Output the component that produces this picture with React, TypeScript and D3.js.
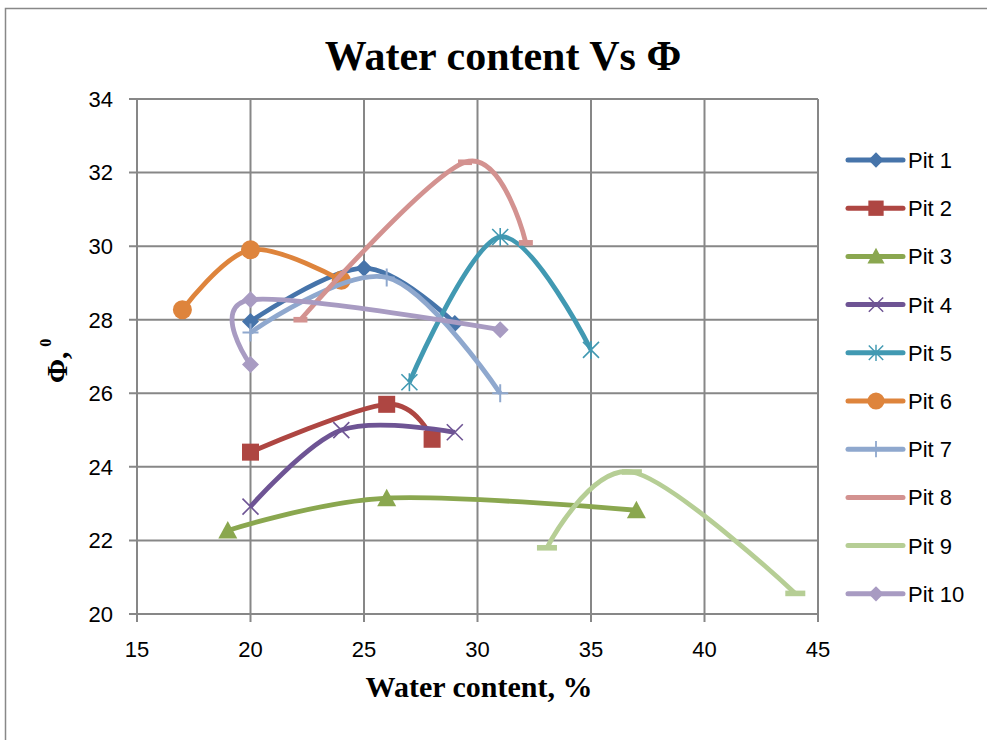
import React from "react";
import * as d3 from "d3";

// ---- data ----
const seriesNames = ["Pit 1", "Pit 2", "Pit 3", "Pit 4", "Pit 5", "Pit 6", "Pit 7", "Pit 8", "Pit 9", "Pit 10"];
const pit1X = [20, 25, 29];
const pit1Y = [27.95, 29.4, 27.9];
const pit2X = [20, 26, 28];
const pit2Y = [24.4, 25.7, 24.75];
const pit3X = [19, 26, 37];
const pit3Y = [22.27, 23.15, 22.82];
const pit4X = [20, 24, 29];
const pit4Y = [22.92, 25.0, 24.94];
const pit5X = [27, 31, 35];
const pit5Y = [26.3, 30.25, 27.18];
const pit6X = [17, 20, 24];
const pit6Y = [28.27, 29.9, 29.07];
const pit7X = [20, 26, 31];
const pit7Y = [27.65, 29.15, 26.0];
const pit8X = [22.2, 29.45, 32.13];
const pit8Y = [28.0, 32.28, 30.09];
const pit9X = [33.06, 36.8, 44.0];
const pit9Y = [21.8, 23.86, 20.56];
const pit10X = [20, 20, 31];
const pit10Y = [26.78, 28.54, 27.73];

const xTicks = [15, 20, 25, 30, 35, 40, 45];
const yTicks = [20, 22, 24, 26, 28, 30, 32, 34];

const allX = [pit1X, pit2X, pit3X, pit4X, pit5X, pit6X, pit7X, pit8X, pit9X, pit10X];
const allY = [pit1Y, pit2Y, pit3Y, pit4Y, pit5Y, pit6Y, pit7Y, pit8Y, pit9Y, pit10Y];

// ---- styles ----
const colors = ["#4674AA", "#AE4642", "#8AA74F", "#6E5494", "#4199B2", "#DE843C", "#8FA8CE", "#D39290", "#B6CE95", "#A89BC2"];
const markers = ["diamond", "square", "triangle", "x", "star", "circle", "plus", "dash", "longdash", "diamond"];

const W = 987;
const H = 740;
const plot = { left: 137, right: 818, top: 99, bottom: 614 };

function Marker({ type, x, y, color, s = 1 }: { type: string; x: number; y: number; color: string; s?: number }) {
  const t = `translate(${x},${y}) scale(${s})`;
  switch (type) {
    case "diamond":
      return <path transform={t} d="M0,-8.5L8.5,0L0,8.5L-8.5,0Z" fill={color} />;
    case "square":
      return <rect transform={t} x={-8.5} y={-8.5} width={17} height={17} fill={color} />;
    case "triangle":
      return <path transform={t} d="M0,-9.5L9.5,8L-9.5,8Z" fill={color} />;
    case "circle":
      return <circle transform={t} r={9.5} fill={color} />;
    case "x":
      return <path transform={t} d="M-8,-8L8,8M-8,8L8,-8" stroke={color} strokeWidth={1.6} fill="none" />;
    case "star":
      return <path transform={t} d="M-8,-8L8,8M-8,8L8,-8M0,-9L0,9" stroke={color} strokeWidth={1.6} fill="none" />;
    case "plus":
      return <path transform={t} d="M-8,0L8,0M0,-9L0,9" stroke={color} strokeWidth={2} fill="none" />;
    case "dash":
      return <rect transform={t} x={-7} y={-2.8} width={14} height={5.6} fill={color} />;
    case "longdash":
      return <rect transform={t} x={-10} y={-2.8} width={20} height={5.6} fill={color} />;
    default:
      return null;
  }
}

export default function App() {
  const x = d3.scaleLinear().domain([15, 45]).range([plot.left, plot.right]);
  const y = d3.scaleLinear().domain([20, 34]).range([plot.bottom, plot.top]);
  const line = d3
    .line<[number, number]>()
    .x((d) => x(d[0]))
    .y((d) => y(d[1]))
    .curve(d3.curveCardinal.tension(0));

  const gridColor = "#878787";
  const legendX0 = 848;
  const legendX1 = 903;
  const legendY0 = 160;
  const legendStep = 48.2;

  return (
    <svg
      width={W}
      height={H}
      style={{ position: "absolute", left: 0, top: 0, display: "block", background: "#fff" }}
    >
      <rect x={0} y={0} width={W} height={H} fill="#fff" />
      {/* outer chart border */}
      <rect x={5.5} y={8.5} width={W + 10} height={H + 10} fill="none" stroke="#888" strokeWidth={1.5} />

      {/* title */}
      <text
        x={503}
        y={70}
        textAnchor="middle"
        fontFamily="'Liberation Serif', 'Times New Roman', serif"
        fontWeight="bold"
        fontSize={42}
        fill="#000"
      >
        Water content Vs Φ
      </text>

      {/* gridlines */}
      {xTicks.map((t) => (
        <line key={"gx" + t} x1={x(t)} x2={x(t)} y1={plot.top} y2={plot.bottom + 8} stroke={gridColor} strokeWidth={2} />
      ))}
      {yTicks.map((t) => (
        <line key={"gy" + t} x1={plot.left - 8} x2={plot.right} y1={y(t)} y2={y(t)} stroke={gridColor} strokeWidth={2} />
      ))}

      {/* tick labels */}
      {yTicks.map((t) => (
        <text
          key={"ty" + t}
          x={113}
          y={y(t)}
          dy="0.36em"
          textAnchor="end"
          fontFamily="'Liberation Sans', Arial, sans-serif"
          fontSize={22}
          fill="#000"
        >
          {t}
        </text>
      ))}
      {xTicks.map((t) => (
        <text
          key={"tx" + t}
          x={x(t)}
          y={657}
          textAnchor="middle"
          fontFamily="'Liberation Sans', Arial, sans-serif"
          fontSize={22}
          fill="#000"
        >
          {t}
        </text>
      ))}

      {/* axis titles */}
      <text
        x={479}
        y={697}
        textAnchor="middle"
        fontFamily="'Liberation Serif', 'Times New Roman', serif"
        fontWeight="bold"
        fontSize={30}
        fill="#000"
      >
        Water content, %
      </text>
      <text
        transform="translate(67,383) rotate(-90)"
        fontFamily="'Liberation Serif', 'Times New Roman', serif"
        fontWeight="bold"
        fontSize={29}
        fill="#000"
      >
        Φ,
        <tspan fontSize={16} dx={5} dy={-16}>
          0
        </tspan>
      </text>

      {/* series */}
      {seriesNames.map((name, i) => {
        const pts: [number, number][] = allX[i].map((v, j) => [v, allY[i][j]]);
        return (
          <g key={name}>
            <path d={line(pts) || ""} fill="none" stroke={colors[i]} strokeWidth={4.8} strokeLinejoin="round" strokeLinecap="butt" />
            {pts.map((p, j) => (
              <Marker key={j} type={markers[i]} x={x(p[0])} y={y(p[1])} color={colors[i]} />
            ))}
          </g>
        );
      })}

      {/* legend */}
      {seriesNames.map((name, i) => {
        const ly = legendY0 + i * legendStep;
        return (
          <g key={"lg" + name}>
            <line x1={legendX0} x2={legendX1} y1={ly} y2={ly} stroke={colors[i]} strokeWidth={5} strokeLinecap="round" />
            {markers[i] !== "dash" && markers[i] !== "longdash" && (
              <Marker type={markers[i]} x={(legendX0 + legendX1) / 2 + 0.5} y={ly} color={colors[i]} s={0.9} />
            )}
            <text
              x={908}
              y={ly}
              dy="0.36em"
              fontFamily="'Liberation Sans', Arial, sans-serif"
              fontSize={22}
              fill="#000"
            >
              {name}
            </text>
          </g>
        );
      })}
    </svg>
  );
}
